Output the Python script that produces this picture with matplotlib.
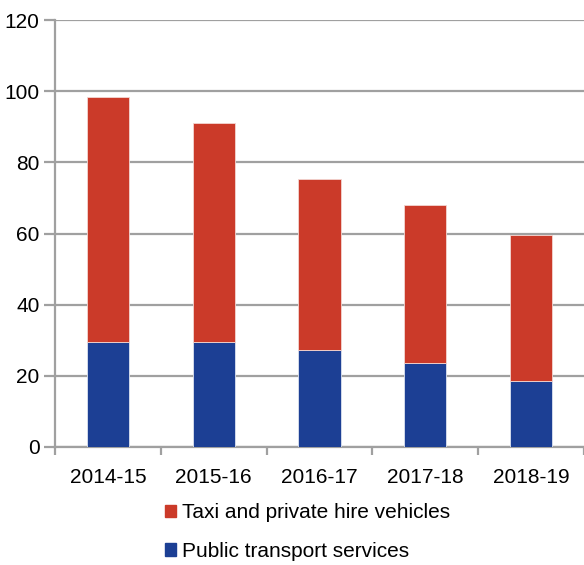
import matplotlib
matplotlib.use("Agg")
import matplotlib.pyplot as plt
import matplotlib.patches as patches
import numpy as np

plt.rcParams["font.family"] = ["Liberation Sans", "DejaVu Sans"]

years = ["2014-15", "2015-16", "2016-17", "2017-18", "2018-19"]
public_transport = [29.6, 29.6, 27.4, 23.6, 18.5]
taxi_phv = [68.8, 61.4, 47.9, 44.3, 41.1]  # stacked on top of public transport

RED = "#CB3A29"
BLUE = "#1C3F94"
GRID = "#A0A0A0"

fig = plt.figure(figsize=(5.84, 5.65), dpi=100)
ax = fig.add_axes([55 / 584, 118 / 565, 529 / 584, 427 / 565])

x = np.arange(len(years))
ax.bar(x, public_transport, width=0.4, color=BLUE, edgecolor="#dde3f0", linewidth=0.6, zorder=3)
ax.bar(x, taxi_phv, width=0.4, bottom=public_transport, color=RED,
       edgecolor="#f3d6d2", linewidth=0.6, zorder=3)

ax.set_ylim(0, 120)
ax.set_xlim(-0.5, 4.46)
ax.set_yticks(range(0, 121, 20))
ax.set_xticks(x)
ax.set_xticklabels(years)
ax.set_xticks(np.arange(-0.5, 4.6, 1), minor=True)
ax.yaxis.grid(True, color=GRID, linewidth=1.6, zorder=0)
ax.set_axisbelow(True)

for s in ["top", "right"]:
    ax.spines[s].set_visible(False)
for s in ["left", "bottom"]:
    ax.spines[s].set_color(GRID)
    ax.spines[s].set_linewidth(1.6)

ax.tick_params(axis="y", length=8, width=1.6, color=GRID, labelsize=15, pad=3)
ax.tick_params(axis="x", which="major", length=0, labelsize=15, pad=15)
ax.tick_params(axis="x", which="minor", length=6, width=1.6, color=GRID)

handles = [patches.Patch(color=RED), patches.Patch(color=BLUE)]
labels = ["Taxi and private hire vehicles", "Public transport services"]
fig.legend(handles, labels, loc="center left", bbox_to_anchor=(146 / 584, 0.058),
           frameon=False, fontsize=15, handlelength=0.55, handleheight=0.55,
           handletextpad=0.3, labelspacing=0.95)

fig.savefig("out.png", dpi=100)
